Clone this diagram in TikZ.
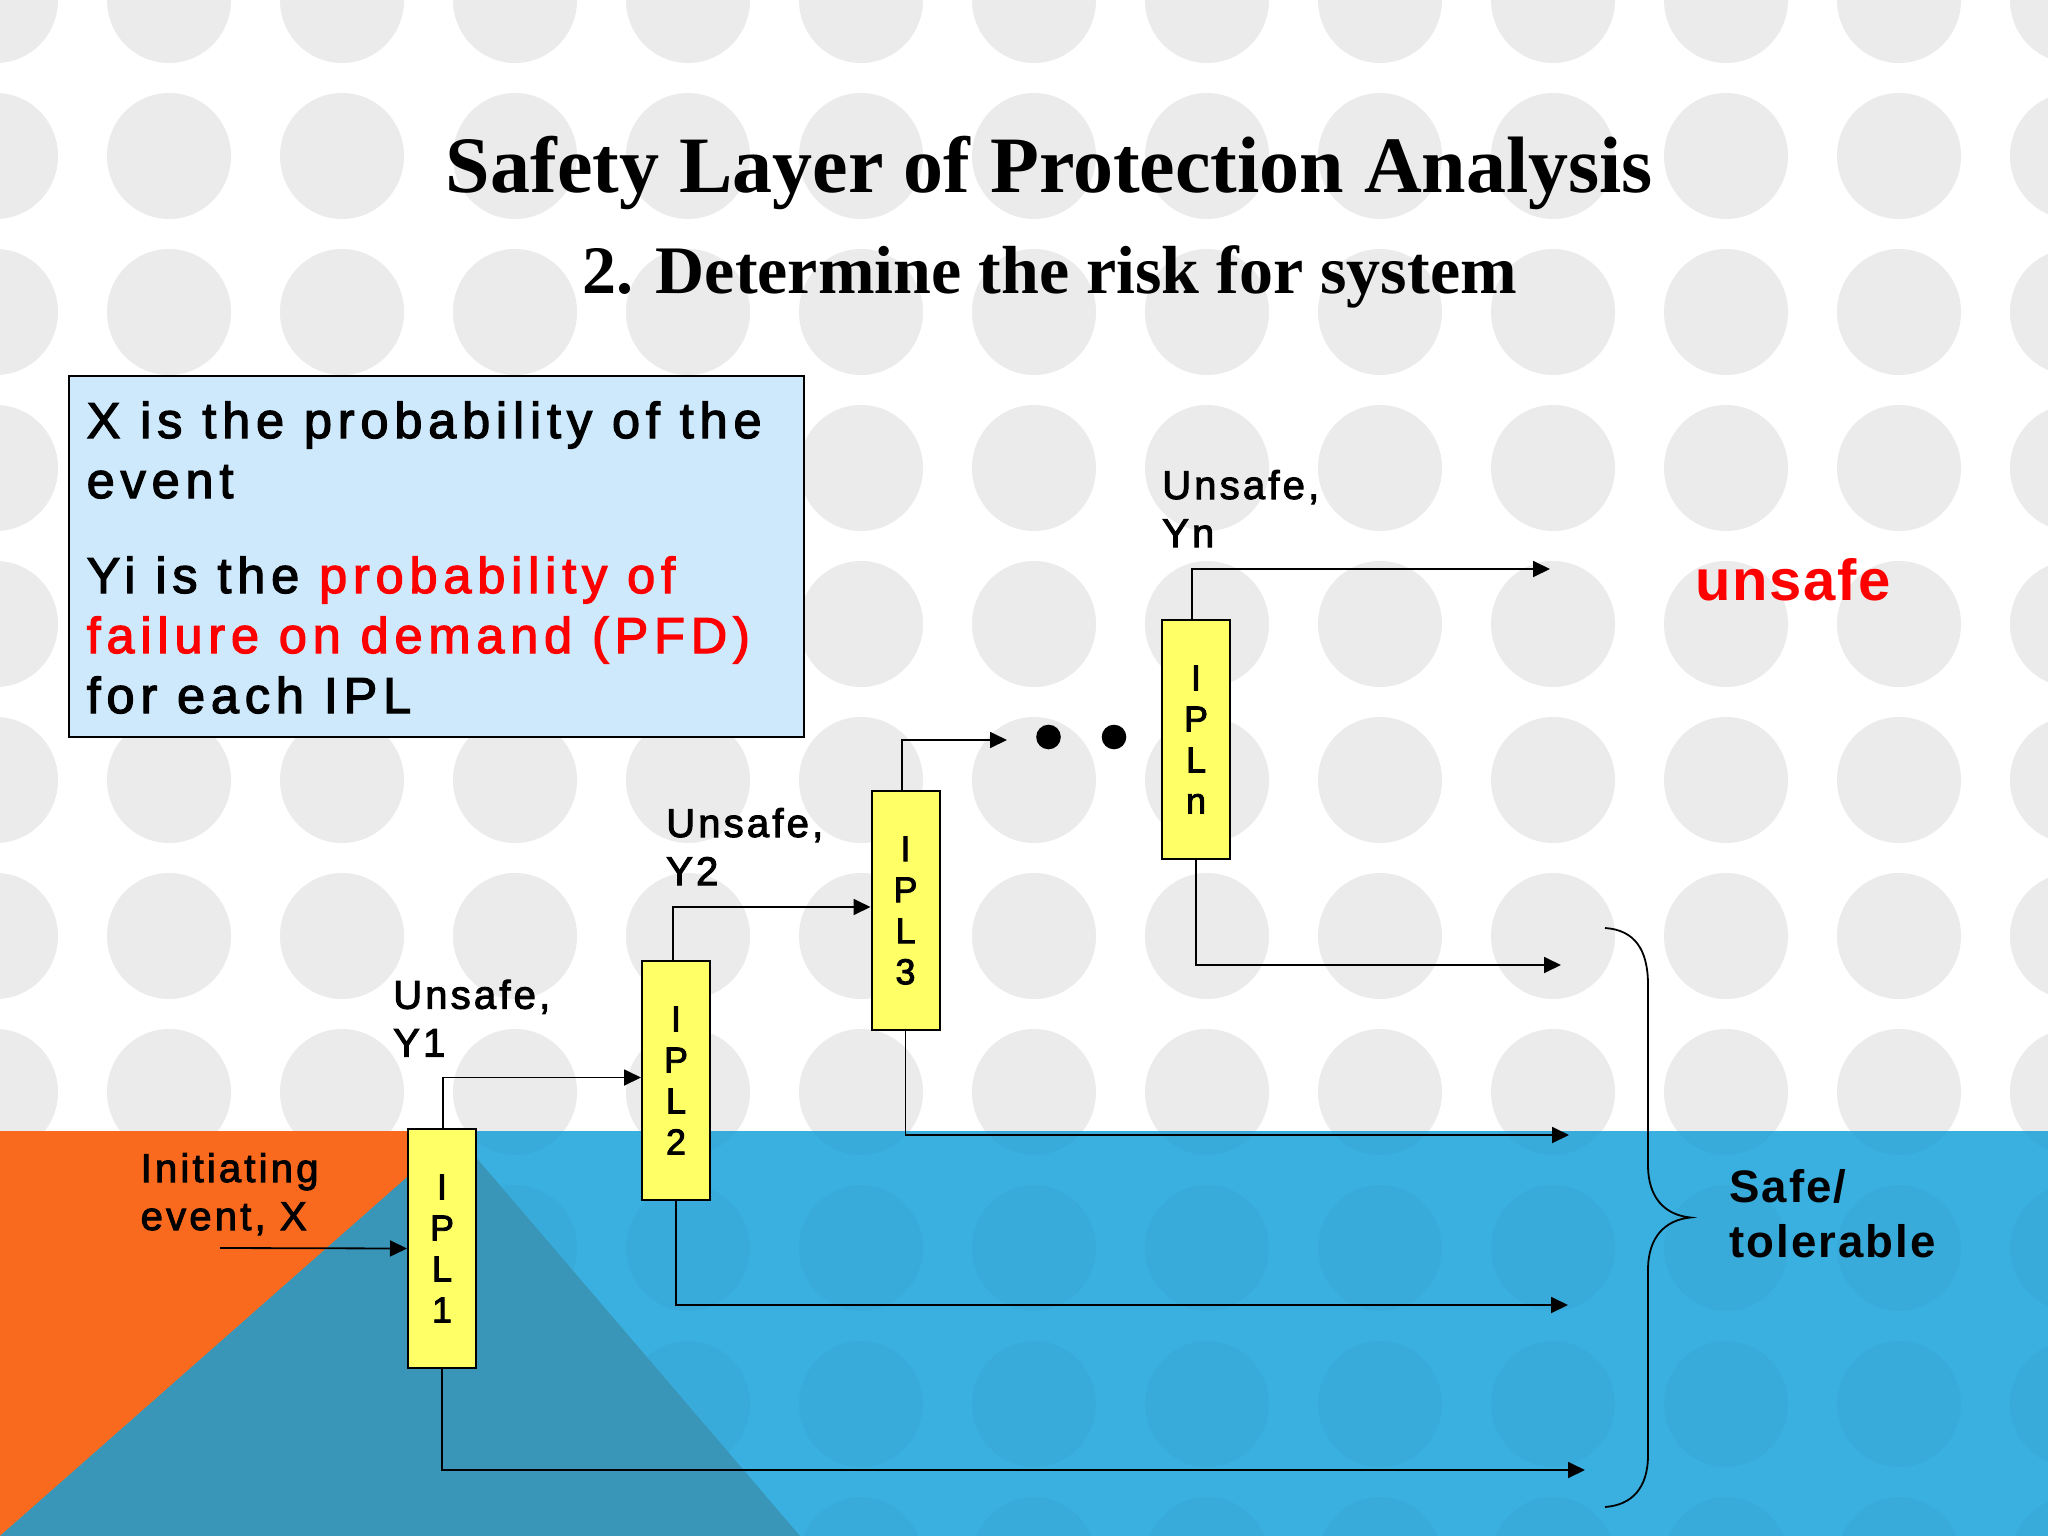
\documentclass[tikz,border=0pt]{standalone}
\usepackage{fontspec}
\setmainfont{Liberation Sans}
\newfontfamily\titlefont{Liberation Serif}
\newfontfamily\boxfont[LetterSpace=11.5,FakeBold=2.5]{Liberation Sans}
\newfontfamily\lblfont[LetterSpace=8,FakeBold=2.5]{Liberation Sans}
\newfontfamily\safefont[LetterSpace=4.5]{Liberation Sans}
\newfontfamily\unsafefont[LetterSpace=3]{Liberation Sans}
\newfontfamily\iplfont[FakeBold=2.5]{Liberation Sans}
\usetikzlibrary{arrows.meta}
\definecolor{dotgrey}{HTML}{EBEBEB}
\definecolor{bandblue}{HTML}{3AB0E0}
\definecolor{bandorange}{HTML}{F96A1E}
\definecolor{bandteal}{HTML}{3A96B8}
\definecolor{iplyellow}{HTML}{FFFF66}
\definecolor{infoblue}{HTML}{CDE9FB}
\definecolor{alertred}{HTML}{FF0000}
\tikzset{
  iplbox/.style={draw=black, line width=2pt, fill=iplyellow, minimum width=68pt,
    minimum height=239pt, inner sep=0pt, align=center,
    font=\iplfont\fontsize{36}{41}\selectfont},
  infobox/.style={draw=black, line width=2pt, fill=infoblue, inner sep=0pt,
    minimum width=735pt, minimum height=361pt},
  lbl/.style={inner sep=0pt, align=left, anchor=base west,
    font=\lblfont\fontsize{40}{48}\selectfont},
  conn/.style={draw=black, line width=1.8pt, -{Triangle[length=17pt,width=16pt]}},
  dotnode/.style={circle, fill=black, minimum size=24.6pt, inner sep=0pt},
}
\begin{document}
\begin{tikzpicture}[x=1pt,y=-1pt]
\useasboundingbox (0,0) rectangle (2048,1536);
% background
\fill[white] (0,0) rectangle (2048,1536);
\foreach \i in {0,...,12}{
  \foreach \j in {0,...,10}{
    \fill[dotgrey] ({-4+173*\i},{156*\j}) ellipse [x radius=62pt, y radius=63pt];
  }
}
\fill[bandblue] (0,1131) rectangle (2048,1536);
\begin{scope}
  \clip (0,1131) rectangle (2048,1536);
  \foreach \i in {0,...,12}{
    \foreach \j in {7,...,10}{
      \fill[black, opacity=0.025] ({-4+173*\i},{156*\j}) ellipse [x radius=62pt, y radius=63pt];
    }
  }
\end{scope}
\fill[bandorange] (0,1131) -- (460,1131) -- (0,1536) -- cycle;
\fill[bandteal] (456,1134) -- (800,1536) -- (0,1536) -- cycle;

% titles
\node[anchor=base, inner sep=0pt, font=\titlefont\bfseries\fontsize{80}{90}\selectfont] (title) at (1049.5,193) {Safety Layer of Protection Analysis};
\node[anchor=base, inner sep=0pt, font=\titlefont\bfseries\fontsize{68}{78}\selectfont] (subtitle) at (1049.5,293) {2. Determine the risk for system};

% info box
\node[infobox, anchor=north west] (info) at (68,375) {};
\node[inner sep=0pt, align=left, anchor=base west, font=\boxfont\fontsize{50.5}{60}\selectfont] (infotext) at (86.5,713)
  {X is the probability of the\\event\\[35pt]Yi is the \textcolor{alertred}{probability of}\\\textcolor{alertred}{failure on demand (PFD)}\\for each IPL};

% IPL boxes
\node[iplbox] (ipl1) at (442,1248.5) {I\\P\\L\\1};
\node[iplbox] (ipl2) at (676,1080.5) {I\\P\\L\\2};
\node[iplbox] (ipl3) at (905.5,910.5) {I\\P\\L\\3};
\node[iplbox] (ipln) at (1196,739.5) {I\\P\\L\\n};

% dots
\node[dotnode] (dot1) at (1048.5,737) {};
\node[dotnode] (dot2) at (1114,737) {};

% labels (base = last line)
\node[lbl] (init) at (140.5,1230) {Initiating\\event, X};
\node[lbl] (unsafe1) at (393,1056.7) {Unsafe,\\Y1};
\node[lbl] (unsafe2) at (666,885) {Unsafe,\\Y2};
\node[lbl] (unsafen) at (1162,547) {Unsafe,\\Yn};
\node[inner sep=0pt, anchor=base west, text=alertred, font=\unsafefont\bfseries\fontsize{58}{66}\selectfont] (unsafe) at (1695,600) {unsafe};
\node[inner sep=0pt, align=left, anchor=base west, font=\safefont\bfseries\fontsize{45.6}{55}\selectfont] (safe) at (1729,1257.3) {Safe/\\tolerable};

% free ends
\coordinate (xin) at (220,1248);
\coordinate (dtip) at (1007,740);
\coordinate (utip) at (1550,569);
\coordinate (s1) at (1561,965);
\coordinate (s2) at (1569,1135);
\coordinate (s3) at (1568,1305);
\coordinate (s4) at (1585,1470);

% connectors
\draw[conn] (xin) -- (ipl1.west);
\draw[conn] ([xshift=1.3pt]ipl1.north) |- ([yshift=3pt]ipl2.west);
\draw[conn] ([xshift=-3pt]ipl2.north) |- ([yshift=3.5pt]ipl3.west);
\draw[conn] ([xshift=-3.5pt]ipl3.north) |- (dtip);
\draw[conn] ([xshift=-4pt]ipln.north) |- (utip);
\draw[conn] (ipln.south) |- (s1);
\draw[conn] (ipl3.south) |- (s2);
\draw[conn] (ipl2.south) |- (s3);
\draw[conn] (ipl1.south) |- (s4);

% brace
\draw[line width=1.8pt] (1605,928) .. controls (1635,930) and (1648,950) .. (1648,985)
  -- (1648,1165) .. controls (1648,1198) and (1665,1215) .. (1690.5,1217.5)
  .. controls (1665,1220) and (1648,1237) .. (1648,1270)
  -- (1648,1455) .. controls (1648,1488) and (1632,1505) .. (1605,1507);
\end{tikzpicture}
\end{document}
